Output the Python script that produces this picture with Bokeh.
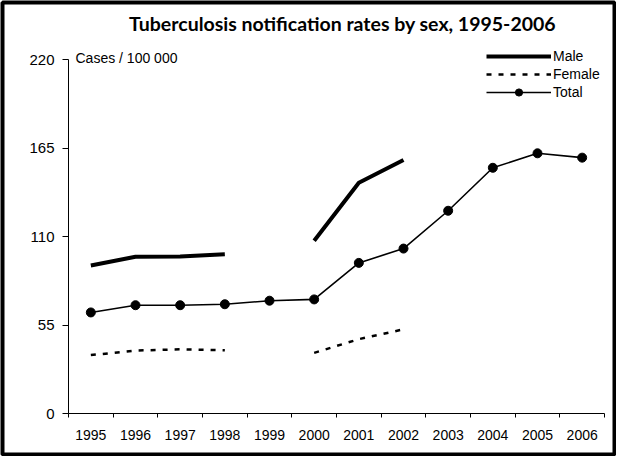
from bokeh.plotting import figure
from bokeh.models import Range1d, FixedTicker, Legend, LegendItem, Label
from bokeh.embed import file_html
from bokeh.resources import INLINE

nan = float("nan")
years = list(range(1995, 2007))
male = [92.0, 97.4, 97.6, 98.9, nan, 107.4, 143.4, 157.6, nan, nan, nan, nan]
female = [36.3, 39.1, 39.9, 39.3, nan, 37.7, 46.2, 52.3, nan, nan, nan, nan]
total = [62.8, 67.3, 67.3, 67.9, 70.1, 70.9, 93.6, 102.5, 126.0, 152.7, 161.7, 159.0]
y_ticks = [0, 55, 110, 165, 220]
title_text = "Tuberculosis notification rates by sex, 1995-2006"
unit_text = "Cases / 100 000"

# ---- layout (canvas pixels) ----
W, H = 616, 456
B = 2                          # frame inset; frame outline (4px) forms the picture border
AX_L, AX_R = 68, 604           # x-axis pixel span
AX_B, AX_T = 413, 59           # y-axis pixel span (value 0 .. top tick)
x0, x1 = years[0] - 0.5, years[-1] + 0.5
y0, y1 = y_ticks[0], y_ticks[-1]
sx = (AX_R - AX_L) / (x1 - x0)
sy = (AX_B - AX_T) / (y1 - y0)
x_range = Range1d(x0 - (AX_L - B) / sx, x1 + (W - B - AX_R) / sx)
y_range = Range1d(y0 - (H - B - AX_B) / sy, y1 + (AX_T - B) / sy)

p = figure(width=W, height=H, output_backend="svg", toolbar_location=None,
           x_range=x_range, y_range=y_range, title=None,
           min_border_left=B, min_border_right=B, min_border_top=B, min_border_bottom=B)
p.grid.visible = False
p.outline_line_color = "black"
p.outline_line_width = 4
p.background_fill_color = "white"
p.border_fill_color = "white"

xa = p.xaxis[0]
xa.fixed_location = y0
xa.bounds = (x0, x1)
xa.ticker = FixedTicker(ticks=years, minor_ticks=[y - 0.5 for y in years] + [x1])
xa.major_label_overrides = {y: str(y) for y in years}
xa.major_tick_out = 0
xa.major_tick_in = 0
xa.minor_tick_out = 4
xa.minor_tick_in = 0
xa.minor_tick_line_color = "black"
xa.axis_line_color = "black"
xa.major_label_standoff = 12
xa.major_label_text_font = "Liberation Sans"
xa.major_label_text_font_size = "14px"
xa.major_label_text_color = "black"

ya = p.yaxis[0]
ya.fixed_location = x0
ya.bounds = (y0, y1)
ya.ticker = FixedTicker(ticks=y_ticks, minor_ticks=[])
ya.major_tick_out = 6
ya.major_tick_in = 0
ya.major_tick_line_color = "black"
ya.axis_line_color = "black"
ya.major_label_standoff = 8
ya.major_label_text_font = "Liberation Sans"
ya.major_label_text_font_size = "15px"
ya.major_label_text_color = "black"

m = p.line(years, male, line_color="black", line_width=4)
f = p.line(years, female, line_color="black", line_width=2.5, line_dash="5 7")
t = p.line(years, total, line_color="black", line_width=1.6)
tc = p.scatter(years, total, size=9, marker="circle", fill_color="black", line_color="black")

# title
p.add_layout(Label(x=(x0 + x1) / 2, x_offset=6, y=H - B - 23, y_units="screen", text=title_text,
                   text_align="center", text_baseline="middle", text_font="Lato",
                   text_font_style="bold", text_font_size="19.5px", text_color="black"))

p.add_layout(Label(x=x0, y=y1, x_offset=7, y_offset=1.5, text=unit_text,
                   text_baseline="middle", text_font="Liberation Sans", text_font_size="14px",
                   text_color="black"))

legend = Legend(items=[LegendItem(label="Male", renderers=[m]),
                       LegendItem(label="Female", renderers=[f]),
                       LegendItem(label="Total", renderers=[t, tc])],
                location=(486 - B, H - B - 101), border_line_color=None, background_fill_alpha=0,
                padding=0, margin=0, spacing=0, glyph_width=65, glyph_height=18,
                label_height=18, label_standoff=2, label_text_font="Liberation Sans",
                label_text_font_size="14px", label_text_color="black")
p.add_layout(legend)

open("out.html", "w").write(file_html(p, INLINE))
